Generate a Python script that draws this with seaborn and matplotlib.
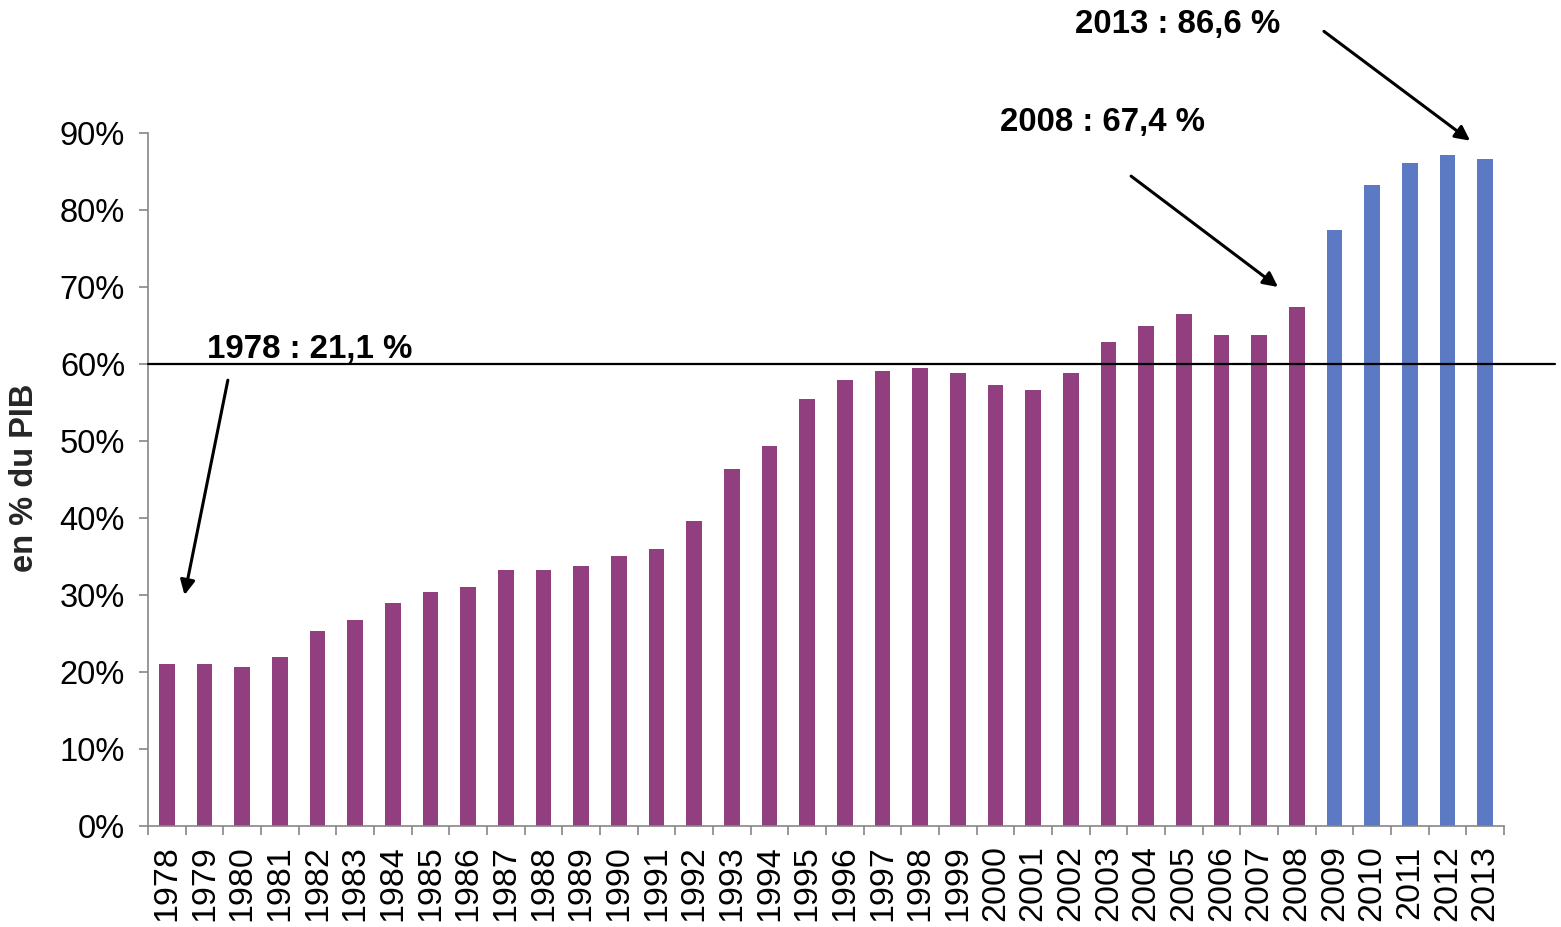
import matplotlib
matplotlib.use("Agg")
import matplotlib.pyplot as plt
import seaborn as sns
import pandas as pd
from matplotlib.ticker import FixedLocator

years = [str(y) for y in range(1978, 2014)]
values = [21.1, 21.0, 20.6, 21.9, 25.3, 26.8, 29.0, 30.4, 31.0, 33.2,
          33.2, 33.8, 35.1, 36.0, 39.6, 46.4, 49.4, 55.5, 57.9, 59.1,
          59.5, 58.8, 57.3, 56.6, 58.8, 62.9, 64.9, 66.5, 63.8, 63.8,
          67.4, 77.4, 83.2, 86.1, 87.1, 86.6]
periods = ["avant"] * 31 + ["après"] * 5
yticks = [0, 10, 20, 30, 40, 50, 60, 70, 80, 90]
ytick_labels = [f"{v}%" for v in yticks]
ylabel = "en % du PIB"
annotations = [
    ("1978 : 21,1 %", (1.06, 61.9), (1.62, 57.9), (0.47, 30.0)),
    ("2008 : 67,4 %", (22.12, 91.4), (25.6, 84.4), (29.5, 70.0)),
    ("2013 : 86,6 %", (24.11, 104.1), (30.72, 103.2), (34.6, 89.0)),
]
threshold = 60

sns.set_theme(style="white")
plt.rcParams["font.family"] = ["Liberation Sans", "DejaVu Sans"]

df = pd.DataFrame({"year": years, "value": values, "period": periods})

fig = plt.figure(figsize=(15.61, 9.27), dpi=100)
ax = fig.add_axes([148 / 1561, 1 - 826 / 927, (1504 - 148) / 1561, (826 - 133) / 927])

sns.barplot(data=df, x="year", y="value", hue="period", dodge=False,
            palette={"avant": "#923F80", "après": "#5B7AC3"},
            width=0.42, legend=False, ax=ax, saturation=1, linewidth=0)

ax.set_xlim(-0.5, len(years) - 0.5)
ax.set_ylim(0, 90)
ax.set_xlabel("")
ax.set_ylabel("")

ax.set_yticks(yticks)
ax.set_yticklabels(ytick_labels, fontsize=23.5)
ax.tick_params(axis="y", direction="out", length=6.5, width=1.2, color="#868686",
               pad=10, left=True, labelcolor="black")

ax.set_xticks(range(len(years)))
ax.set_xticklabels(years, rotation=90, fontsize=24.5)
ax.tick_params(axis="x", which="major", length=0, pad=14, labelcolor="black")
ax.xaxis.set_minor_locator(FixedLocator([i - 0.5 for i in range(len(years) + 1)]))
ax.tick_params(axis="x", which="minor", direction="out", length=6.5, width=1.2,
               color="#868686", bottom=True)

for side in ["top", "right"]:
    ax.spines[side].set_visible(False)
for side in ["left", "bottom"]:
    ax.spines[side].set_color("#868686")
    ax.spines[side].set_linewidth(1.2)

ax.axhline(threshold, xmin=0, xmax=(1555 - 148) / (1504 - 148), color="black",
           lw=1.6, clip_on=False, zorder=3)

for text, tpos, tail, head in annotations:
    ax.text(tpos[0], tpos[1], text, ha="left", va="center", fontsize=23.8,
            fontweight="bold", color="black", clip_on=False)
    ax.annotate("", xy=head, xytext=tail, annotation_clip=False,
                arrowprops=dict(arrowstyle="-|>", color="black", lw=2.2,
                                mutation_scale=22, shrinkA=0, shrinkB=0))

fig.text(25 / 1561, 1 - 478 / 927, ylabel, rotation=90, ha="center", va="center",
         fontsize=23.5, fontweight="bold")

fig.savefig("out.png", dpi=100)
